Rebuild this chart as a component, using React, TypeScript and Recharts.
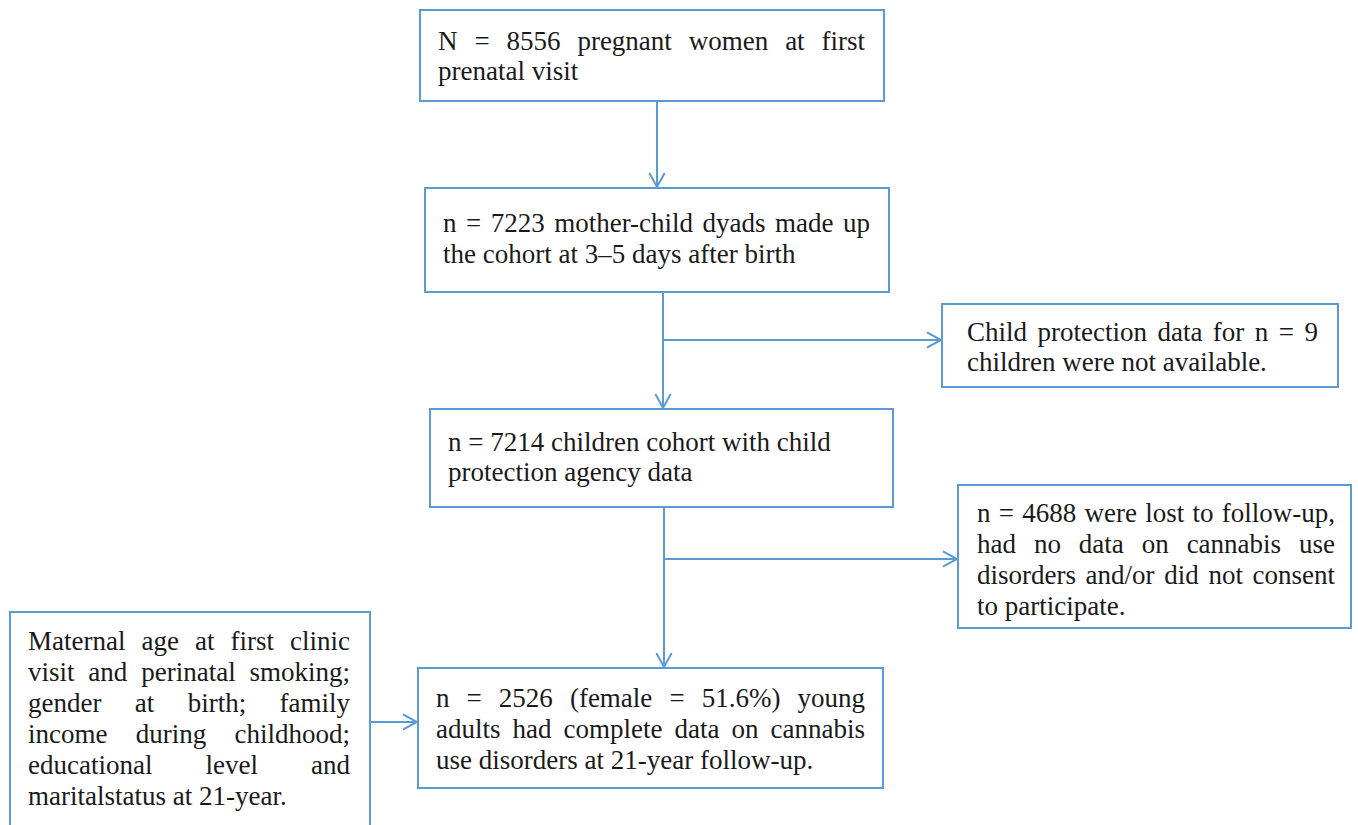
import React from "react";
import {
  ScatterChart,
  Scatter,
  XAxis,
  YAxis,
  ReferenceArea,
  ReferenceLine,
} from "recharts";

// box texts, one entry per printed line
const enrolLines = ["N = 8556 pregnant women at first", "prenatal visit"];
const cohortLines = [
  "n = 7223 mother-child dyads made up",
  "the cohort at 3–5 days after birth",
];
const missingLines = ["Child protection data for n = 9", "children were not available."];
const agencyLines = ["n = 7214 children cohort with child", "protection agency data"];
const lostLines = [
  "n = 4688 were lost to follow-up,",
  "had no data on cannabis use",
  "disorders and/or did not consent",
  "to participate.",
];
const covariateLines = [
  "Maternal age at first clinic",
  "visit and perinatal smoking;",
  "gender at birth; family",
  "income during childhood;",
  "educational level and",
  "maritalstatus at 21-year.",
];
const finalLines = [
  "n = 2526 (female = 51.6%) young",
  "adults had complete data on cannabis",
  "use disorders at 21-year follow-up.",
];

const W = 1358;
const H = 825;
const BLUE = "#5b9bd5";
const FONT_SIZE = 27;
const FONT_FAMILY = "Liberation Serif";

// layout in chart units (x to the right, y downward)
const boxes = [
  { lines: enrolLines, x1: 420, x2: 884, y1: 10, y2: 101, pad: 18, tw: 427, base: 40, gap: 30, justify: true },
  { lines: cohortLines, x1: 425, x2: 889, y1: 188, y2: 292, pad: 18, tw: 427, base: 44, gap: 31, justify: true },
  { lines: missingLines, x1: 942, x2: 1338, y1: 304, y2: 387, pad: 25, tw: 351, base: 37, gap: 30, justify: true },
  { lines: agencyLines, x1: 430, x2: 893, y1: 409, y2: 507, pad: 18, tw: 0, base: 42, gap: 30, justify: false },
  { lines: lostLines, x1: 958, x2: 1351, y1: 485, y2: 628, pad: 19, tw: 358, base: 37, gap: 31, justify: true },
  { lines: covariateLines, x1: 10, x2: 370, y1: 612, y2: 850, pad: 18, tw: 322, base: 38, gap: 31, justify: true },
  { lines: finalLines, x1: 418, x2: 883, y1: 668, y2: 788, pad: 18, tw: 429, base: 39, gap: 31, justify: true },
];

const arrows = [
  { from: { x: 657, y: 101 }, to: { x: 657, y: 187 } },
  { from: { x: 663, y: 292 }, to: { x: 663, y: 408 } },
  { from: { x: 663, y: 340 }, to: { x: 941, y: 340 } },
  { from: { x: 664, y: 507 }, to: { x: 664, y: 667 } },
  { from: { x: 664, y: 559 }, to: { x: 957, y: 559 } },
  { from: { x: 370, y: 722 }, to: { x: 417, y: 722 } },
];

// one anchor per box: first baseline, left edge of the text
const textAnchors = boxes.map((b, i) => ({ x: b.x1 + b.pad, y: b.y1 + b.base, box: i }));

let ctx: CanvasRenderingContext2D | null = null;
const measure = (s: string) => {
  if (!ctx) ctx = document.createElement("canvas").getContext("2d");
  if (!ctx) return s.length * FONT_SIZE * 0.45;
  ctx.font = `${FONT_SIZE}px "${FONT_FAMILY}"`;
  return ctx.measureText(s).width;
};

const tProps = { fontFamily: FONT_FAMILY, fontSize: FONT_SIZE, fill: "#1a1a1a" };

const BoxText = (props: any) => {
  const { cx, cy, payload } = props;
  const box = boxes[payload.box];
  return (
    <g>
      {box.lines.map((line: string, i: number) => {
        const y = cy + i * box.gap;
        const last = i === box.lines.length - 1;
        if (!box.justify || last) {
          return (
            <text key={i} x={cx} y={y} {...tProps}>
              {line}
            </text>
          );
        }
        // justified line: spread the words over the full width
        const words = line.split(" ");
        const widths = words.map(measure);
        const total = widths.reduce((a, b) => a + b, 0);
        const gap = (box.tw - total) / (words.length - 1);
        let x = cx;
        return (
          <g key={i}>
            {words.map((w, j) => {
              const el = (
                <text key={j} x={x} y={y} {...tProps}>
                  {w}
                </text>
              );
              x += widths[j] + gap;
              return el;
            })}
          </g>
        );
      })}
    </g>
  );
};

const ArrowLine = (props: any) => {
  const { x1, y1, x2, y2 } = props;
  const ang = Math.atan2(y2 - y1, x2 - x1);
  const len = 16;
  const spread = 0.5;
  const ax = x2 - len * Math.cos(ang - spread);
  const ay = y2 - len * Math.sin(ang - spread);
  const bx = x2 - len * Math.cos(ang + spread);
  const by = y2 - len * Math.sin(ang + spread);
  return (
    <g>
      <line x1={x1} y1={y1} x2={x2} y2={y2} stroke={BLUE} strokeWidth={2} />
      <polyline
        points={`${ax},${ay} ${x2},${y2} ${bx},${by}`}
        fill="none"
        stroke={BLUE}
        strokeWidth={2}
      />
    </g>
  );
};

export default function App() {
  return (
    <div style={{ position: "absolute", left: 0, top: 0, background: "#fff" }}>
      <ScatterChart width={W} height={H} margin={{ top: 0, right: 0, bottom: 0, left: 0 }}>
        <XAxis type="number" dataKey="x" domain={[0, W]} hide allowDataOverflow />
        <YAxis type="number" dataKey="y" domain={[0, H]} reversed hide allowDataOverflow />
        {boxes.map((b, i) => (
          <ReferenceArea
            key={"box" + i}
            x1={b.x1}
            x2={b.x2}
            y1={b.y1}
            y2={b.y2}
            fill="#ffffff"
            fillOpacity={1}
            stroke={BLUE}
            strokeWidth={2}
            ifOverflow="visible"
          />
        ))}
        {arrows.map((a, i) => (
          <ReferenceLine
            key={"arr" + i}
            segment={[a.from, a.to]}
            stroke={BLUE}
            strokeWidth={2}
            ifOverflow="visible"
            shape={(p: any) => <ArrowLine {...p} />}
          />
        ))}
        <Scatter
          data={textAnchors}
          isAnimationActive={false}
          shape={(p: any) => <BoxText {...p} />}
        />
      </ScatterChart>
    </div>
  );
}
